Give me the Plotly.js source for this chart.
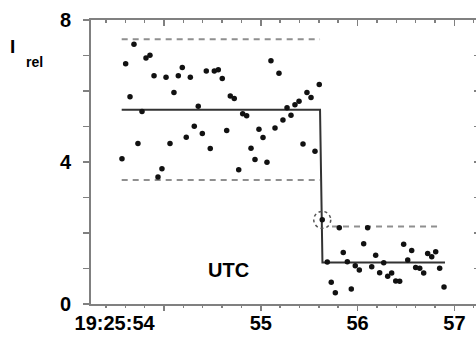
<!DOCTYPE html>
<html>
<head>
<meta charset="utf-8">
<script src="https://cdn.plot.ly/plotly-3.0.1.min.js"></script>
<style>
  html, body { margin: 0; padding: 0; background: #fff; overflow: hidden; }
  #chart { width: 479px; height: 340px; }
</style>
</head>
<body>
<div id="chart"></div>
<script>
// ---- data (seconds after 19:25:00 UTC, relative intensity) ----
const timeSec = [
  53.566, 53.604, 53.649, 53.690, 53.731, 53.773, 53.814, 53.855, 53.897, 53.938,
  53.979, 54.021, 54.062, 54.103, 54.148, 54.189, 54.230, 54.272, 54.313, 54.354,
  54.396, 54.437, 54.478, 54.520, 54.561, 54.602, 54.648, 54.685, 54.726, 54.772,
  54.813, 54.854, 54.899, 54.940, 54.981, 55.023, 55.064, 55.105, 55.147, 55.188,
  55.229, 55.271, 55.312, 55.353, 55.395, 55.436, 55.477, 55.519, 55.560, 55.604,
  55.635, 55.687, 55.728, 55.770, 55.811, 55.852, 55.894, 55.935, 55.976, 56.018,
  56.063, 56.104, 56.146, 56.187, 56.228, 56.270, 56.311, 56.352, 56.394, 56.435,
  56.476, 56.518, 56.559, 56.600, 56.642, 56.683, 56.724, 56.766, 56.807, 56.848,
  56.893
];
const intensity = [
  4.09, 6.77, 5.84, 7.32, 4.52, 5.42, 6.93, 7.01, 6.43, 3.58,
  3.81, 6.39, 4.52, 5.96, 6.43, 6.66, 4.70, 6.39, 5.01, 5.57,
  4.80, 6.56, 4.38, 6.56, 6.60, 6.35, 4.89, 5.86, 5.79, 3.78,
  5.36, 5.30, 4.39, 4.07, 4.92, 4.69, 3.99, 6.85, 4.96, 6.50,
  5.18, 5.53, 5.32, 5.61, 5.71, 4.51, 5.96, 5.82, 4.30, 6.18,
  2.37, 1.18, 0.61, 0.32, 2.15, 1.45, 1.19, 0.42, 1.08, 0.96,
  1.70, 2.15, 1.05, 1.37, 0.88, 1.16, 0.78, 0.87, 0.65, 0.64,
  1.68, 1.24, 1.51, 1.03, 1.01, 0.87, 1.42, 1.33, 1.47, 1.01,
  0.48
];
const highlightIndex = 50;

// mean level (step) and bands
const stepTime  = [53.563, 55.612, 55.637, 56.903];
const stepLevel = [5.47, 5.47, 1.17, 1.17];
const bandBeforeTime = [53.563, 55.612];
const bandBeforeHigh = [7.46, 7.46];
const bandBeforeLow  = [3.49, 3.49];
const bandAfterTime  = [55.736, 56.869];
const bandAfterHigh  = [2.18, 2.18];

// tick labels
const xTickVals = [53.49, 55, 56, 57];
const xTickText = ['19:25:54', '55', '56', '57'];
const yTickVals = [0, 4, 8];
const yTickText = ['0', '4', '8'];

// ---- styling ----
const FONT = 'Liberation Sans, Arial, Helvetica, sans-serif';
const AX = '#808080';
const xRange = [53.246, 57.244];
const yRange = [0, 8];

const dashStyle = {color: '#8f8f8f', width: 2, dash: '6px,5px'};

const traces = [
  {x: bandBeforeTime, y: bandBeforeHigh, mode: 'lines', line: dashStyle, hoverinfo: 'skip'},
  {x: bandBeforeTime, y: bandBeforeLow,  mode: 'lines', line: dashStyle, hoverinfo: 'skip'},
  {x: bandAfterTime,  y: bandAfterHigh,  mode: 'lines', line: dashStyle, hoverinfo: 'skip'},
  {x: stepTime, y: stepLevel, mode: 'lines', line: {color: '#333333', width: 2}, hoverinfo: 'skip'},
  {x: timeSec, y: intensity, mode: 'markers', marker: {color: '#111111', size: 5.5}},
  // invisible helpers so the frame axes are drawn
  {x: timeSec, y: intensity, xaxis: 'x2', yaxis: 'y', mode: 'markers', marker: {opacity: 0}, hoverinfo: 'skip'},
  {x: timeSec, y: intensity, xaxis: 'x3', yaxis: 'y2', mode: 'markers', marker: {opacity: 0}, hoverinfo: 'skip'}
];

const layout = {
  width: 479, height: 340,
  margin: {l: 91, r: 1, t: 20, b: 36},
  paper_bgcolor: '#ffffff', plot_bgcolor: '#ffffff',
  showlegend: false,
  font: {family: FONT, color: '#000'},
  xaxis: {
    range: xRange, tickmode: 'array', tickvals: xTickVals, ticktext: xTickText,
    ticks: '', showline: true, linecolor: AX, linewidth: 2,
    showgrid: false, zeroline: false,
    tickfont: {family: FONT, size: 20, weight: 'bold', color: '#000'}
  },
  xaxis2: {
    overlaying: 'x', anchor: 'y', side: 'bottom', range: xRange,
    tickmode: 'linear', tick0: 54, dtick: 1,
    ticks: 'outside', ticklen: 6, tickwidth: 1.5, tickcolor: AX,
    showticklabels: false, showline: false, showgrid: false, zeroline: false,
    minor: {tick0: 54, dtick: 0.2, ticks: 'outside', ticklen: 3, tickwidth: 1.5, tickcolor: AX, showgrid: false}
  },
  xaxis3: {
    overlaying: 'x', anchor: 'y', side: 'top', range: xRange,
    tickmode: 'linear', tick0: 54, dtick: 1,
    ticks: 'inside', ticklen: 6, tickwidth: 1.5, tickcolor: AX,
    showticklabels: false, showline: true, linecolor: AX, linewidth: 2,
    showgrid: false, zeroline: false,
    minor: {tick0: 54, dtick: 0.2, ticks: 'inside', ticklen: 3, tickwidth: 1.5, tickcolor: AX, showgrid: false}
  },
  yaxis: {
    range: yRange, tickmode: 'array', tickvals: yTickVals, ticktext: yTickText,
    ticks: 'outside', ticklen: 6, tickwidth: 1.5, tickcolor: AX,
    ticklabelstandoff: 8,
    showline: true, linecolor: AX, linewidth: 2,
    showgrid: false, zeroline: false,
    tickfont: {family: FONT, size: 20, weight: 'bold', color: '#000'},
    minor: {dtick: 1, ticks: 'outside', ticklen: 6, tickwidth: 1.5, tickcolor: AX, showgrid: false}
  },
  yaxis2: {
    overlaying: 'y', anchor: 'x', side: 'right', range: yRange,
    tickmode: 'linear', tick0: 0, dtick: 1,
    ticks: 'inside', ticklen: 4, tickwidth: 1.5, tickcolor: AX,
    showticklabels: false, showline: true, linecolor: AX, linewidth: 2,
    showgrid: false, zeroline: false
  },
  shapes: [{
    type: 'circle', xref: 'x', yref: 'y',
    xsizemode: 'pixel', ysizemode: 'pixel',
    xanchor: timeSec[highlightIndex], yanchor: intensity[highlightIndex],
    x0: -8.5, x1: 8.5, y0: -8.5, y1: 8.5,
    line: {color: '#555555', width: 1.5, dash: 'dot'}
  }],
  annotations: [
    {text: 'UTC', xref: 'x', yref: 'y', x: 54.671, y: 0.958, showarrow: false,
     xanchor: 'center', yanchor: 'middle',
     font: {family: FONT, size: 20, weight: 'bold', color: '#000'}},
    {text: 'I', xref: 'paper', yref: 'paper', x: -0.204, y: 0.907, showarrow: false,
     xanchor: 'center', yanchor: 'middle',
     font: {family: FONT, size: 19, weight: 'bold', color: '#000'}},
    {text: 'rel', xref: 'paper', yref: 'paper', x: -0.147, y: 0.852, showarrow: false,
     xanchor: 'center', yanchor: 'middle',
     font: {family: FONT, size: 14, weight: 'bold', color: '#000'}}
  ]
};

Plotly.newPlot('chart', traces, layout, {staticPlot: true, displayModeBar: false});
</script>
</body>
</html>
